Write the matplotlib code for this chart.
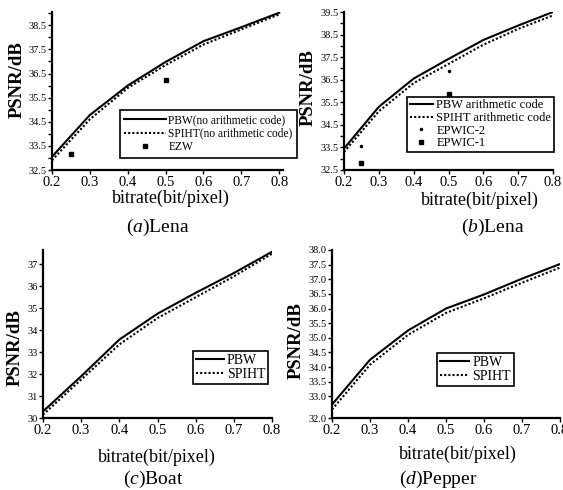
import numpy as np
import matplotlib
matplotlib.use("Agg")
import matplotlib.pyplot as plt

plt.rcParams['font.family'] = ['Liberation Serif', 'DejaVu Serif']
plt.rcParams['mathtext.fontset'] = 'custom'
plt.rcParams['mathtext.it'] = 'Liberation Serif:italic'
plt.rcParams['mathtext.rm'] = 'Liberation Serif'

# bitrate values (bit/pixel)
bitrate = [0.2, 0.3, 0.4, 0.5, 0.6, 0.7, 0.8]
xlabels = ['0.2', '0.3', '0.4', '0.5', '0.6', '0.7', '0.8']

# (a) Lena, no arithmetic code
lena_pbw_a = [33.05, 34.78, 36.0, 36.98, 37.84, 38.42, 39.02]
lena_spiht_a = [32.9, 34.6, 35.9, 36.85, 37.7, 38.33, 38.95]
ezw_x = [0.25, 0.5]
ezw_y = [33.15, 36.25]

# (b) Lena, arithmetic code
lena_pbw_b = [33.45, 35.3, 36.55, 37.42, 38.26, 38.9, 39.5]
lena_spiht_b = [33.3, 35.1, 36.35, 37.2, 38.05, 38.75, 39.35]
epwic2_x = [0.25, 0.5]
epwic2_y = [33.55, 36.9]
epwic1_x = [0.25, 0.5]
epwic1_y = [32.8, 35.85]

# (c) Boat
boat_pbw = [30.3, 31.9, 33.57, 34.75, 35.7, 36.6, 37.57]
boat_spiht = [30.15, 31.75, 33.35, 34.55, 35.5, 36.45, 37.48]

# (d) Pepper
pepper_pbw = [32.72, 34.25, 35.25, 36.0, 36.48, 37.02, 37.52]
pepper_spiht = [32.55, 34.08, 35.1, 35.85, 36.35, 36.88, 37.4]

W, H = 563, 490
fig = plt.figure(figsize=(W / 100, H / 100), dpi=100)


def fx(px):
    return px / W


def fy(py):
    return 1 - py / H


def make_ax(left, top, right, bottom, ylab_xy, xlab_xy):
    ax = fig.add_axes([fx(left), fy(bottom), (right - left) / W, (bottom - top) / H])
    ax.spines['top'].set_visible(False)
    ax.spines['right'].set_visible(False)
    ax.spines['left'].set_linewidth(1.6)
    ax.spines['bottom'].set_linewidth(1.6)
    ax.tick_params(direction='out', length=3, width=1, pad=1)
    ax.tick_params(axis='x', labelsize=10.5)
    ax.tick_params(axis='y', labelsize=7.5)
    ax.set_xticks(bitrate)
    ax.set_xticklabels(xlabels)
    ax.set_ylabel('PSNR/dB', fontsize=13.5, fontweight='bold')
    ax.yaxis.set_label_coords(fx(ylab_xy[0]), fy(ylab_xy[1]), transform=fig.transFigure)
    ax.set_xlabel('bitrate(bit/pixel)', fontsize=13)
    ax.xaxis.set_label_coords(fx(xlab_xy[0]), fy(xlab_xy[1]), transform=fig.transFigure)
    ax.xaxis.label.set_va('center')
    ax.yaxis.label.set_va('center')
    return ax


def legend(ax, x, y, fs, hl, ls, bp):
    leg = ax.legend(loc='upper left', bbox_to_anchor=(fx(x), fy(y)),
                    bbox_transform=fig.transFigure, fontsize=fs, frameon=True,
                    fancybox=False, edgecolor='black', framealpha=1,
                    borderpad=bp, labelspacing=ls, handlelength=hl,
                    handletextpad=0.25, borderaxespad=0)
    leg.get_frame().set_linewidth(1.2)
    return leg


solid = dict(color='black', lw=1.5, ls='-')
dotted = dict(color='black', lw=1.5, ls=(0, (1, 1)))

# (a)
ax = make_ax(52, 12, 283, 170, (17, 80), (171, 198))
ax.plot(bitrate, lena_pbw_a, label='PBW(no arithmetic code)', **solid)
ax.plot(bitrate, lena_spiht_a, label='SPIHT(no arithmetic code)', **dotted)
ax.plot(ezw_x, ezw_y, ls='none', marker='s', ms=3.5, color='black', label='EZW')
ax.set_xlim(0.2, 0.81)
ax.set_ylim(32.5, 39.05)
yt = np.arange(32.5, 39.01, 0.5)
ax.set_yticks(yt)
ax.set_yticklabels([f'{v:.1f}' if i % 2 == 0 else '' for i, v in enumerate(yt)])
legend(ax, 120, 110, fs=8.3, hl=3.6, ls=0.15, bp=0.35)
fig.text(fx(158), fy(227), r'($\mathit{a}$)Lena', ha='center', va='center', fontsize=14)

# (b)
ax = make_ax(344, 12, 553, 170, (308, 88), (480, 200))
ax.plot(bitrate, lena_pbw_b, label='PBW arithmetic code', **solid)
ax.plot(bitrate, lena_spiht_b, label='SPIHT arithmetic code', **dotted)
ax.plot(epwic2_x, epwic2_y, ls='none', marker='.', ms=3, color='black', label='EPWIC-2')
ax.plot(epwic1_x, epwic1_y, ls='none', marker='s', ms=3.5, color='black', label='EPWIC-1')
ax.set_xlim(0.2, 0.8)
ax.set_ylim(32.5, 39.5)
yt = np.arange(32.5, 39.51, 0.5)
ax.set_yticks(yt)
ax.set_yticklabels([f'{v:.1f}' if i % 2 == 0 else '' for i, v in enumerate(yt)])
legend(ax, 407, 97, fs=9, hl=1.9, ls=0.05, bp=0.2)
fig.text(fx(493), fy(227), r'($\mathit{b}$)Lena', ha='center', va='center', fontsize=14)

# (c)
ax = make_ax(43, 250, 272, 418, (15, 348), (157, 457))
ax.plot(bitrate, boat_pbw, label='PBW', **solid)
ax.plot(bitrate, boat_spiht, label='SPIHT', **dotted)
ax.set_xlim(0.2, 0.8)
ax.set_ylim(30, 37.65)
ax.set_yticks(range(30, 38))
legend(ax, 193, 351, fs=10, hl=2.0, ls=0.1, bp=0.2)
fig.text(fx(153), fy(479), r'($\mathit{c}$)Boat', ha='center', va='center', fontsize=14)

# (d)
ax = make_ax(332, 250, 560, 418, (296, 341), (458, 454))
ax.plot(bitrate, pepper_pbw, label='PBW', **solid)
ax.plot(bitrate, pepper_spiht, label='SPIHT', **dotted)
ax.set_xlim(0.2, 0.8)
ax.set_ylim(32.26, 38.0)
ydl = np.arange(33.0, 38.01, 0.5)
ax.set_yticks([32.26] + list(ydl))
ax.set_yticklabels(['32.0'] + [f'{v:.1f}' for v in ydl])
legend(ax, 437, 353, fs=10, hl=2.1, ls=0.1, bp=0.2)
fig.text(fx(438), fy(479), r'($\mathit{d}$)Pepper', ha='center', va='center', fontsize=14)

fig.savefig('out.png', dpi=100)
